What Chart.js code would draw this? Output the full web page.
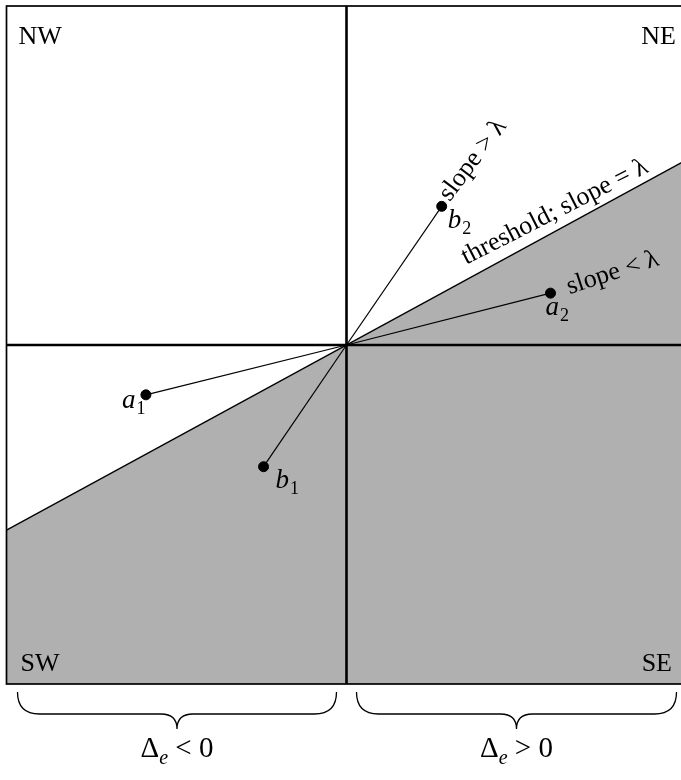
<!DOCTYPE html>
<html>
<head>
<meta charset="utf-8">
<script src="https://cdn.jsdelivr.net/npm/chart.js@4.4.1/dist/chart.umd.min.js"></script>
<style>
  html, body { margin: 0; padding: 0; background: #fff; overflow: hidden; }
  canvas { display: block; }
</style>
</head>
<body>
<canvas id="myChart" width="693" height="780"></canvas>
<script>
'use strict';

// quadrant names, point names and where the points sit
let quadrantLabels = ['NW', 'NE', 'SW', 'SE'];
let pointNames = ['a1', 'b1', 'b2', 'a2'];
let pointX = [-0.59, -0.244, 0.28, 0.60];
let pointY = [-0.147, -0.359, 0.409, 0.153];

// threshold line, slope = lambda
let lambda = 0.546;
let thresholdX = [-1, 1];

let sideLabels = ['< 0', '> 0'];

const serif = '"Liberation Serif", "Times New Roman", serif';

let datasets = [];

// shaded region under the threshold
datasets.push({
    type: 'line',
    data: thresholdX.map(x => ({ x: x, y: lambda * x })),
    borderColor: '#000',
    borderWidth: 1.3,
    backgroundColor: '#b0b0b0',
    fill: 'start',
    pointRadius: 0,
    order: 3
});

// spokes from the origin
for (let i = 0; i < pointX.length; i++) {
    datasets.push({
        type: 'line',
        data: [{ x: 0, y: 0 }, { x: pointX[i], y: pointY[i] }],
        borderColor: '#000',
        borderWidth: 1.2,
        pointRadius: 0,
        fill: false,
        order: 2
    });
}

// the points
datasets.push({
    type: 'scatter',
    data: pointX.map((x, i) => ({ x: x, y: pointY[i] })),
    backgroundColor: '#000',
    borderColor: '#000',
    pointRadius: 5,
    order: 1
});

function italicSub(ctx, main, sub, x, y) {
    ctx.font = 'italic 27px ' + serif;
    ctx.fillText(main, x, y);
    let w = ctx.measureText(main).width;
    ctx.font = '18px ' + serif;
    ctx.fillText(sub, x + w + 1, y + 6);
}

function brace(ctx, x0, x1, top) {
    let r = 22;
    let c = (x0 + x1) / 2;
    let low = top + 22;
    ctx.beginPath();
    ctx.moveTo(x0, top);
    ctx.quadraticCurveTo(x0, low, x0 + r, low);
    ctx.lineTo(c - 16, low);
    ctx.quadraticCurveTo(c, low, c, low + 15);
    ctx.quadraticCurveTo(c, low, c + 16, low);
    ctx.lineTo(x1 - r, low);
    ctx.quadraticCurveTo(x1, low, x1, top);
    ctx.stroke();
}

const decorations = {
    id: 'decorations',
    afterDatasetsDraw(chart) {
        const ctx = chart.ctx;
        const xs = chart.scales.x;
        const ys = chart.scales.y;
        const area = chart.chartArea;
        let x0 = xs.getPixelForValue(0);
        let y0 = ys.getPixelForValue(0);

        ctx.save();
        ctx.strokeStyle = '#000';

        // frame
        ctx.lineWidth = 1.7;
        ctx.strokeRect(area.left, area.top, area.right - area.left, area.bottom - area.top);

        // axes through the origin
        ctx.lineWidth = 2.6;
        ctx.beginPath();
        ctx.moveTo(area.left, y0);
        ctx.lineTo(area.right, y0);
        ctx.moveTo(x0, area.top);
        ctx.lineTo(x0, area.bottom);
        ctx.stroke();

        // quadrant names
        ctx.fillStyle = '#000';
        ctx.font = '26px ' + serif;
        ctx.textBaseline = 'alphabetic';
        ctx.textAlign = 'left';
        ctx.fillText(quadrantLabels[0], area.left + 12, area.top + 38);
        ctx.fillText(quadrantLabels[2], area.left + 14, area.bottom - 13);
        ctx.textAlign = 'right';
        ctx.fillText(quadrantLabels[1], 676, area.top + 38);
        ctx.fillText(quadrantLabels[3], 672, area.bottom - 13);

        // point names
        ctx.textAlign = 'left';
        let offs = [[-24, 13], [12, 21], [6, 22], [-5, 22]];
        for (let i = 0; i < pointNames.length; i++) {
            let px = xs.getPixelForValue(pointX[i]);
            let py = ys.getPixelForValue(pointY[i]);
            italicSub(ctx, pointNames[i][0], pointNames[i][1], px + offs[i][0], py + offs[i][1]);
        }

        // rotated notes
        ctx.font = '26px ' + serif;
        let notes = [
            ['slope > \u03bb', 2, 8, -4, -53],
            ['threshold; slope = \u03bb', -1, 0, 0, -27],
            ['slope < \u03bb', 3, 19, 1, -18]
        ];
        for (let n of notes) {
            let tx, ty;
            if (n[1] < 0) {
                let xv = 0.352;
                tx = xs.getPixelForValue(xv);
                ty = ys.getPixelForValue(lambda * xv) - 15;
            } else {
                tx = xs.getPixelForValue(pointX[n[1]]) + n[2];
                ty = ys.getPixelForValue(pointY[n[1]]) + n[3];
            }
            ctx.save();
            ctx.translate(tx, ty);
            ctx.rotate(n[4] * Math.PI / 180);
            ctx.fillText(n[0], 0, 0);
            ctx.restore();
        }

        // braces under the chart
        ctx.lineWidth = 1.3;
        let top = area.bottom + 8;
        brace(ctx, area.left + 11, x0 - 10, top);
        brace(ctx, x0 + 10, area.right - 10, top);

        // delta labels
        let cy = 757;
        let centers = [(area.left + 11 + x0 - 10) / 2, (x0 + 10 + area.right - 10) / 2];
        for (let i = 0; i < 2; i++) {
            ctx.font = '29px ' + serif;
            let wD = ctx.measureText('\u0394').width;
            let wRest = ctx.measureText(' ' + sideLabels[i]).width;
            ctx.font = 'italic 20px ' + serif;
            let wE = ctx.measureText('e').width;
            let start = centers[i] - (wD + wE + wRest) / 2;
            ctx.font = '29px ' + serif;
            ctx.fillText('\u0394', start, cy);
            ctx.font = 'italic 20px ' + serif;
            ctx.fillText('e', start + wD, cy + 7);
            ctx.font = '29px ' + serif;
            ctx.fillText(' ' + sideLabels[i], start + wD + wE, cy);
        }
        ctx.restore();
    }
};

const ctx = document.getElementById('myChart').getContext('2d');
const myChart = new Chart(ctx, {
    type: 'scatter',
    data: { datasets: datasets },
    options: {
        responsive: false,
        animation: false,
        layout: {
            padding: { left: 6.5, top: 2, right: 6.5, bottom: 96 }
        },
        plugins: {
            legend: { display: false },
            tooltip: { enabled: false }
        },
        scales: {
            x: { type: 'linear', min: -1, max: 1, display: false },
            y: { type: 'linear', min: -1, max: 1, display: false }
        }
    },
    plugins: [decorations]
});
</script>
</body>
</html>
